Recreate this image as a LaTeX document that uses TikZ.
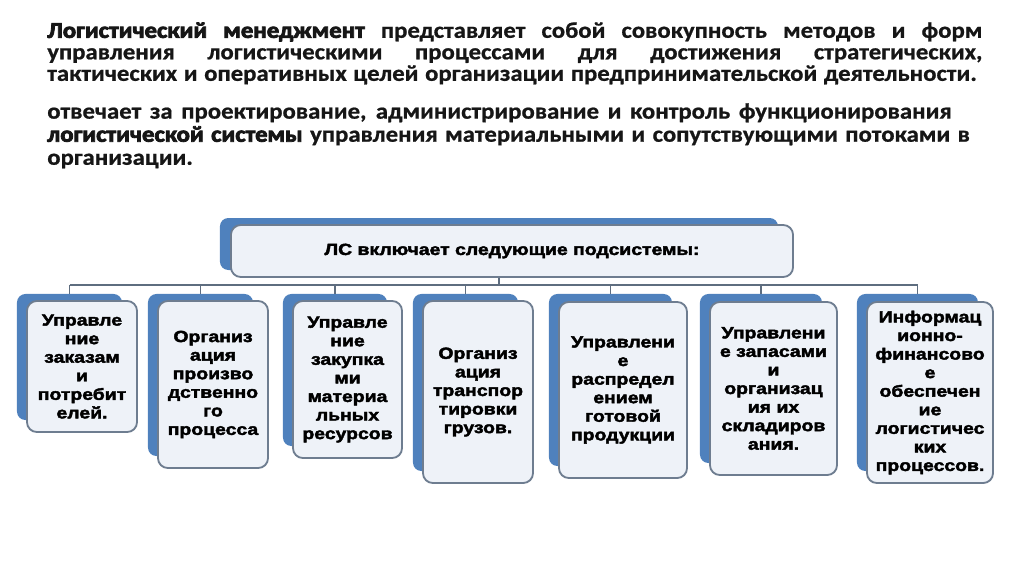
\documentclass[tikz,border=0pt]{standalone}
\usepackage{fontspec}
\setmainfont{Carlito}[FakeStretch=1.1,BoldFeatures={FakeBold=0.8}]
\newfontfamily\heavyfont{Carlito}[FakeStretch=1.1,BoldFeatures={FakeBold=3.5}]
\newfontfamily\boxfont{Liberation Sans}[FakeStretch=1.2,BoldFeatures={FakeBold=2.5}]
\usetikzlibrary{positioning}
\definecolor{BackBlue}{HTML}{4F81BD}
\definecolor{CardFill}{HTML}{EEF2F8}
\definecolor{CardLine}{HTML}{6E7D90}
\definecolor{BusLine}{HTML}{5E6D7F}
\definecolor{InkGray}{HTML}{161616}
\newcommand{\heavy}[1]{{\heavyfont\bfseries #1}}

\begin{document}
\begin{tikzpicture}[x=0.025cm, y=-0.025cm,
    back/.style={fill=BackBlue, rounded corners=6pt, inner sep=0pt},
    card/.style={draw=CardLine, line width=1.3pt, fill=CardFill, rounded corners=7pt,
      align=center, inner sep=0pt, text=black,
      font=\boxfont\bfseries\fontsize{11.5}{13.2}\selectfont},
    para/.style={anchor=north west, align=left, inner sep=0pt, text=InkGray},
    bus/.style={draw=BusLine, line width=1.2pt}
  ]
    \useasboundingbox (0,0) rectangle (1024,574);

    % text above the chart
    \node[para, font=\bfseries\fontsize{16}{15.3}\selectfont] (intro) at (47,22)
      {\makebox[665pt][s]{\heavy{Логистический менеджмент} представляет собой совокупность методов и форм}\\
       \makebox[665pt][s]{управления логистическими процессами для достижения стратегических,}\\
       \makebox[661pt][s]{тактических и оперативных целей организации предпринимательской деятельности.}};
    \node[para, font=\bfseries\fontsize{16}{16.4}\selectfont] (duty) at (47,103)
      {\makebox[643pt][s]{отвечает за проектирование, администрирование и контроль функционирования}\\
       \makebox[656pt][s]{\heavy{логистической системы} управления материальными и сопутствующими потоками в}\\
       организации.};

    % head box
    \coordinate (bus) at (0,285);
    \node[back, minimum width=13.95cm, minimum height=1.3cm] (topback) at (499,244) {};
    \node[card, minimum width=14.05cm, minimum height=1.3cm] (top) at (512,251) {ЛС включает следующие подсистемы:};
    \draw[bus] (top.south -| topback.south) -- (topback.south |- bus);

    % subsystems
    \node[back, minimum width=2.625cm, minimum height=3.15cm] (bk1) at (69.5,357) {};
    \node[card, minimum width=2.75cm, minimum height=3.275cm] (sub1) at (82,366.5)
      {Управле\\ние\\заказам\\и\\потребит\\елей.};
    \node[back, minimum width=2.625cm, minimum height=4.05cm] (bk2) at (200.5,375) {};
    \node[card, minimum width=2.75cm, minimum height=4.175cm] (sub2) at (213,384.5)
      {Организ\\ация\\произво\\дственно\\го\\процесса};
    \node[back, minimum width=2.6cm, minimum height=3.8cm] (bk3) at (335,370) {};
    \node[card, minimum width=2.725cm, minimum height=3.925cm] (sub3) at (347.5,379.5)
      {Управле\\ние\\закупка\\ми\\материа\\льных\\ресурсов};
    \node[back, minimum width=2.625cm, minimum height=4.425cm] (bk4) at (465.5,382.5) {};
    \node[card, minimum width=2.75cm, minimum height=4.55cm] (sub4) at (478,392)
      {Организ\\ация\\транспор\\тировки\\грузов.};
    \node[back, minimum width=3.075cm, minimum height=4.3cm] (bk5) at (610.5,380) {};
    \node[card, minimum width=3.2cm, minimum height=4.4cm] (sub5) at (623,390)
      {Управлени\\е\\распредел\\ением\\готовой\\продукции};
    \node[back, minimum width=3.05cm, minimum height=4.225cm] (bk6) at (761,378.5) {};
    \node[card, minimum width=3.175cm, minimum height=4.325cm] (sub6) at (773.5,388.5)
      {Управлени\\е запасами\\и\\организац\\ия их\\складиров\\ания.};
    \node[back, minimum width=3.025cm, minimum height=4.425cm] (bk7) at (917.5,382.5) {};
    \node[card, minimum width=3.15cm, minimum height=4.525cm] (sub7) at (930,392.5)
      {Информац\\ионно-\\финансово\\е\\обеспечен\\ие\\логистичес\\ких\\процессов.};

    % connectors
    \draw[bus] (bk1.north |- bus) -- (bk7.north |- bus);
    \draw[bus] (bk1.north |- bus) -- (bk1.north);
    \draw[bus] (bk2.north |- bus) -- (bk2.north);
    \draw[bus] (bk3.north |- bus) -- (bk3.north);
    \draw[bus] (bk4.north |- bus) -- (bk4.north);
    \draw[bus] (bk5.north |- bus) -- (bk5.north);
    \draw[bus] (bk6.north |- bus) -- (bk6.north);
    \draw[bus] (bk7.north |- bus) -- (bk7.north);
  \end{tikzpicture}
\end{document}
